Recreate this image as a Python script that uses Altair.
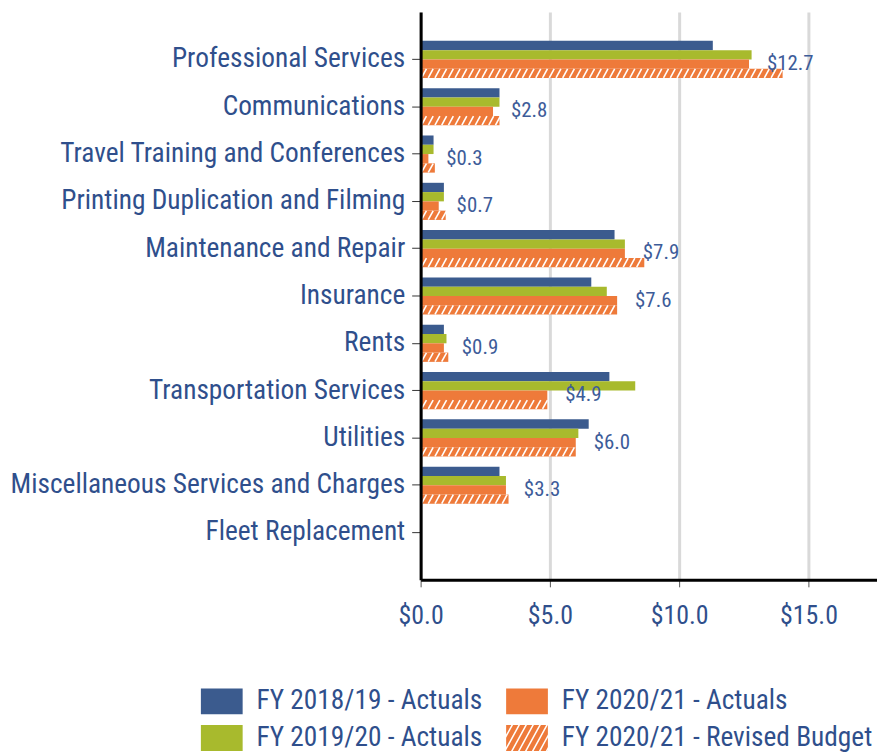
import altair as alt
import pandas as pd

categories = [
    "Professional Services",
    "Communications",
    "Travel Training and Conferences",
    "Printing Duplication and Filming",
    "Maintenance and Repair",
    "Insurance",
    "Rents",
    "Transportation Services",
    "Utilities",
    "Miscellaneous Services and Charges",
    "Fleet Replacement",
]
series_names = [
    "FY 2018/19 - Actuals",
    "FY 2019/20 - Actuals",
    "FY 2020/21 - Actuals",
    "FY 2020/21 - Revised Budget",
]
fy1819 = [11.3, 3.05, 0.5, 0.9, 7.5, 6.6, 0.9, 7.3, 6.5, 3.05, 0.0]
fy1920 = [12.8, 3.05, 0.5, 0.9, 7.9, 7.2, 1.0, 8.3, 6.1, 3.3, 0.0]
fy2021 = [12.7, 2.8, 0.3, 0.7, 7.9, 7.6, 0.9, 4.9, 6.0, 3.3, 0.0]
budget = [14.0, 3.05, 0.55, 0.97, 8.65, 7.6, 1.07, 4.9, 6.0, 3.4, 0.0]
x_ticks = [0, 5, 10, 15]

BLUE, GREEN, ORANGE = "#3B5B8E", "#A8BA2D", "#EE7A3A"
series_colors = [BLUE, GREEN, ORANGE, ORANGE]
TEXT = "#2F4F8C"
FONT = "Roboto Condensed, Liberation Sans Narrow, Roboto, sans-serif"

rows = []
for name, vals in zip(series_names, [fy1819, fy1920, fy2021, budget]):
    for cat, v in zip(categories, vals):
        rows.append({"category": cat, "series": name, "value": v})
df = pd.DataFrame(rows)

# legend symbols (rectangles; striped one for the revised budget)
H, K = 0.62, 0.55
RECT = f"M-1,-{H}H1V{H}H-1Z"


def clip_rect(poly, xmin, xmax, ymin, ymax):
    def clip_edge(pts, inside, inter):
        out = []
        for i in range(len(pts)):
            cur, prev = pts[i], pts[i - 1]
            if inside(cur):
                if not inside(prev):
                    out.append(inter(prev, cur))
                out.append(cur)
            elif inside(prev):
                out.append(inter(prev, cur))
        return out

    def ix(X):
        return lambda p, c: (X, p[1] + (X - p[0]) / (c[0] - p[0]) * (c[1] - p[1]))

    def iy(Y):
        return lambda p, c: (p[0] + (Y - p[1]) / (c[1] - p[1]) * (c[0] - p[0]), Y)

    pts = poly
    for inside, inter in [
        (lambda p: p[0] >= xmin, ix(xmin)),
        (lambda p: p[0] <= xmax, ix(xmax)),
        (lambda p: p[1] >= ymin, iy(ymin)),
        (lambda p: p[1] <= ymax, iy(ymax)),
    ]:
        if not pts:
            break
        pts = clip_edge(pts, inside, inter)
    return pts


def striped_path(period=0.333, width=0.25):
    parts = []
    c = -1 - K * H - period
    while c < 1 + K * H:
        poly = [(c - K * H, H), (c + width - K * H, H), (c + width + K * H, -H), (c + K * H, -H)]
        pts = clip_rect(poly, -1, 1, -H, H)
        if len(pts) >= 3:
            parts.append("M" + "L".join(f"{x:.3f},{y:.3f}" for x, y in pts) + "Z")
        c += period
    return "".join(parts)


series_shapes = [RECT, RECT, RECT, striped_path()]

legend = alt.Legend(
    title=None,
    orient="none",
    legendX=-221,
    legendY=672,
    columns=2,
    columnPadding=23,
    rowPadding=2,
    labelFont=FONT,
    labelFontSize=27.5,
    labelColor=TEXT,
    labelOffset=14,
    labelLimit=0,
    symbolSize=1764,
    symbolStrokeWidth=0,
    symbolOpacity=1,
    padding=0,
)

color_enc = alt.Color(
    "series:N", scale=alt.Scale(domain=series_names, range=series_colors), legend=legend
)
shape_enc = alt.Shape(
    "series:N", scale=alt.Scale(domain=series_names, range=series_shapes), legend=legend
)

x_enc = alt.X(
    "value:Q",
    scale=alt.Scale(domain=[0, 17.65], nice=False, zero=True),
    axis=alt.Axis(
        values=x_ticks,
        format="$.1f",
        title=None,
        grid=True,
        gridColor="#D9D9D9",
        gridWidth=3,
        domainColor="black",
        domainWidth=3,
        tickColor="#555555",
        tickSize=7,
        labelFont=FONT,
        labelFontSize=26,
        labelColor=TEXT,
        labelPadding=16,
        labelFlush=False,
    ),
)
y_enc = alt.Y(
    "category:N",
    sort=categories,
    scale=alt.Scale(domain=categories, paddingInner=0.215, paddingOuter=0.6075),
    axis=alt.Axis(
        title=None,
        domainColor="black",
        domainWidth=3,
        tickColor="#333333",
        tickSize=9,
        labelFont=FONT,
        labelFontSize=27.5,
        labelColor=TEXT,
        labelPadding=7,
        labelLimit=0,
        zindex=1,
    ),
)
yoff_enc = alt.YOffset(
    "series:N", scale=alt.Scale(domain=series_names, paddingInner=0, paddingOuter=0)
)

legend_layer = (
    alt.Chart(df)
    .transform_filter("false")
    .mark_point(filled=True, opacity=1)
    .encode(x=x_enc, y=y_enc, color=color_enc, shape=shape_enc)
)

bars = alt.Chart(df).mark_bar().encode(x=x_enc, y=y_enc, yOffset=yoff_enc, color=color_enc)

hatch = (
    alt.Chart(df)
    .transform_filter(
        (alt.datum.series == series_names[3]) & (alt.datum.value > 0)
    )
    .transform_calculate(xs="sequence(0.13, datum.value, 0.26)")
    .transform_flatten(["xs"])
    .mark_point(
        shape="M-0.55,1L0.55,-1",
        size=80,
        stroke="white",
        strokeWidth=1.6,
        filled=False,
        opacity=1,
    )
    .encode(x=alt.X("xs:Q"), y=y_enc, yOffset=yoff_enc)
)

labels = (
    alt.Chart(df)
    .transform_filter(
        (alt.datum.series == series_names[2]) & (alt.datum.value > 0)
    )
    .mark_text(align="left", baseline="middle", dx=18, font=FONT, fontSize=21, color="#3D5C99")
    .encode(
        x=alt.X("value:Q"),
        y=y_enc,
        yOffset=yoff_enc,
        text=alt.Text("value:Q", format="$.1f"),
    )
)

chart = (
    alt.layer(legend_layer, bars, hatch, labels)
    .properties(
        width=459,
        height=571,
        padding={"left": 1, "top": 2, "right": 0, "bottom": 0},
        background="white",
    )
    .configure_view(strokeWidth=0)
)

chart.save("out.html", embed_options={"renderer": "svg", "actions": False})
